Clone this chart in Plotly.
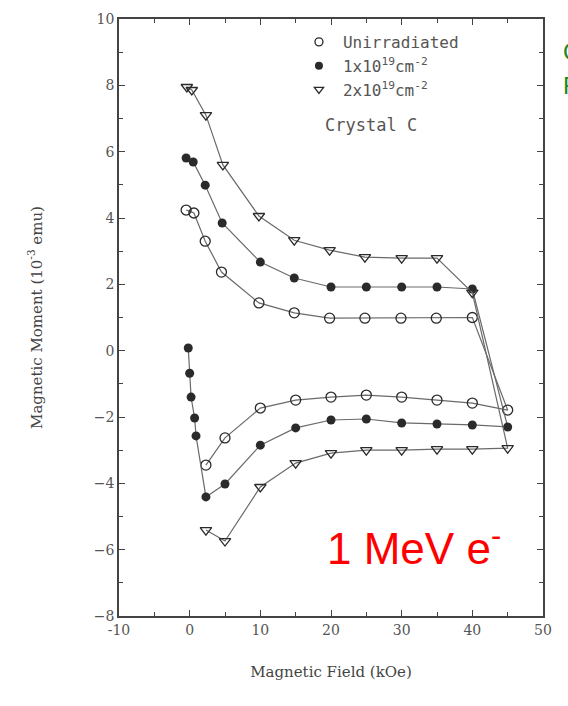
import plotly.graph_objects as go

# Unirradiated (open circles)
x_un = [-0.5, 0.6, 2.2, 4.5, 9.8, 14.8, 19.8, 24.8, 29.9, 34.9, 40.0, 45.0,
        40.0, 35.0, 30.0, 25.0, 20.0, 15.0, 10.0, 5.0, 2.3]
y_un = [4.24, 4.15, 3.30, 2.37, 1.44, 1.14, 0.98, 0.98, 0.98, 0.98, 1.0, -1.79,
        -1.58, -1.49, -1.40, -1.34, -1.40, -1.49, -1.73, -2.63, -3.45]

# 1x10^19 cm^-2 (filled circles)
x_1e19 = [-0.5, 0.5, 2.2, 4.6, 10.0, 14.8, 20.0, 25.0, 30.0, 35.0, 40.0, 45.0,
          40.0, 35.0, 30.0, 25.0, 20.0, 15.0, 10.0, 5.0, 2.3,
          0.9, 0.7, 0.2, 0.0, -0.2]
y_1e19 = [5.81, 5.69, 4.99, 3.85, 2.67, 2.19, 1.92, 1.92, 1.92, 1.92, 1.86, -2.30,
          -2.24, -2.21, -2.18, -2.06, -2.09, -2.33, -2.85, -4.02, -4.41,
          -2.57, -2.03, -1.40, -0.68, 0.08]

# 2x10^19 cm^-2 (open triangles)
x_2e19 = [-0.4, 0.3, 2.3, 4.7, 9.8, 14.8, 19.8, 24.8, 30.0, 35.0, 40.0, 45.0,
          40.0, 35.0, 30.0, 25.0, 20.0, 15.0, 10.0, 5.0, 2.3]
y_2e19 = [7.95, 7.86, 7.10, 5.60, 4.06, 3.33, 3.03, 2.82, 2.79, 2.79, 1.75, -2.94,
          -2.97, -2.97, -3.00, -3.00, -3.09, -3.39, -4.11, -5.74, -5.41]

names = ["Unirradiated", "1x10<sup>19</sup>cm<sup>-2</sup>", "2x10<sup>19</sup>cm<sup>-2</sup>"]
x_ticks = [-10, 0, 10, 20, 30, 40, 50]
y_ticks = [-8, -6, -4, -2, 0, 2, 4, 6, 8, 10]

LINE = "#6a6a6a"
INK = "#2a2a2a"
TXT = "#555555"
FONT = "DejaVu Serif"
MONO = "DejaVu Sans Mono"

series = [
    (x_un, y_un, dict(symbol="circle-open", size=10, color=INK, line=dict(width=1.3))),
    (x_1e19, y_1e19, dict(symbol="circle", size=9, color=INK)),
    (x_2e19, y_2e19, dict(symbol="triangle-down-open", size=10, color=INK, line=dict(width=1.3))),
]

fig = go.Figure()
for (xs, ys, mk), nm in zip(series, names):
    fig.add_trace(go.Scatter(x=xs, y=ys, mode="lines+markers",
                             line=dict(color=LINE, width=1.2),
                             marker=mk, showlegend=False))
for (xs, ys, mk), nm in zip(series, names):
    m = dict(mk)
    m["size"] = 8
    fig.add_trace(go.Scatter(x=[None], y=[None], mode="markers", name=nm,
                             marker=m, showlegend=True))

fig.update_layout(
    width=568, height=706,
    margin=dict(l=119, r=25, t=19, b=90),
    paper_bgcolor="white", plot_bgcolor="white",
    font=dict(family=FONT, size=14, color=TXT),
    legend=dict(x=0.415, y=0.99, xanchor="left", yanchor="top",
                bgcolor="rgba(0,0,0,0)", font=dict(size=16, color=TXT, family=MONO),
                itemwidth=38, tracegroupgap=0),
    annotations=[
        dict(text="Crystal C", x=0.482, y=0.822, xref="paper", yref="paper",
             xanchor="left", yanchor="middle", showarrow=False,
             font=dict(size=17, color=TXT, family=MONO)),
        dict(text="1 MeV e<sup>-</sup>", x=0.485, y=0.118, xref="paper", yref="paper",
             xanchor="left", yanchor="middle", showarrow=False,
             font=dict(size=44, color="#ff0000", family="Liberation Sans")),
        dict(text="C", x=1.043, y=0.945, xref="paper", yref="paper",
             xanchor="left", yanchor="middle", showarrow=False,
             font=dict(size=24, color="#1a8a1a", family="Liberation Sans")),
        dict(text="F", x=1.043, y=0.889, xref="paper", yref="paper",
             xanchor="left", yanchor="middle", showarrow=False,
             font=dict(size=24, color="#1a8a1a", family="Liberation Sans")),
    ],
)

fig.update_xaxes(range=[-10, 50], tickvals=x_ticks, ticktext=[str(v) for v in x_ticks],
                 ticks="inside", ticklen=6, tickcolor="#444", showline=True,
                 linecolor="#444", linewidth=1.6, mirror="ticks", showgrid=False,
                 zeroline=False, minor=dict(dtick=5, ticks="inside", ticklen=4, tickcolor="#444"),
                 title=dict(text="Magnetic Field (kOe)", standoff=30,
                            font=dict(size=15, color="#444")),
                 tickfont=dict(size=14, color=TXT))
fig.update_yaxes(range=[-8, 10], tickvals=y_ticks,
                 ticktext=[("\u2212" + str(-v)) if v < 0 else str(v) for v in y_ticks],
                 ticks="inside", ticklen=6, tickcolor="#444", showline=True,
                 linecolor="#444", linewidth=1.6, mirror="ticks", showgrid=False,
                 zeroline=False, minor=dict(dtick=1, ticks="inside", ticklen=4, tickcolor="#444"),
                 title=dict(text="Magnetic Moment (10<sup>-3</sup> emu)", standoff=48,
                            font=dict(size=15, color="#444")),
                 tickfont=dict(size=14, color=TXT))

fig.write_html("out.html")
